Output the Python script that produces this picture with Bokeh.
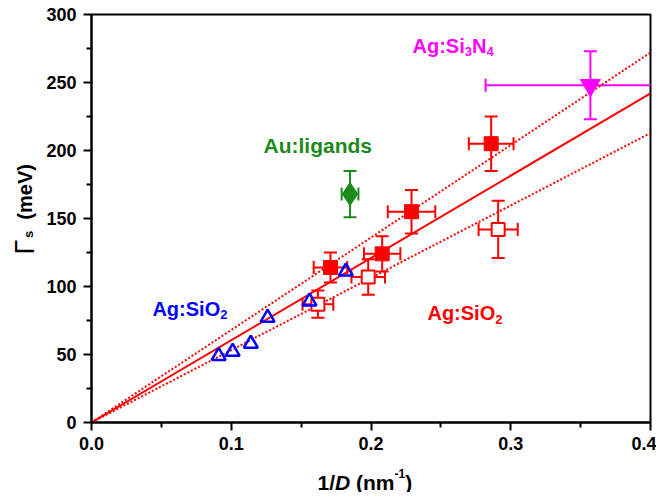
import numpy as np
from bokeh.plotting import figure
from bokeh.layouts import row, column
from bokeh.models import ColumnDataSource, Whisker, TeeHead, Label, FixedTicker, Range1d
from bokeh.embed import file_html
from bokeh.resources import INLINE

# ---- data ----
# Ag:SiO2 (open blue triangles)
tri_x = [0.091, 0.101, 0.114, 0.126, 0.156, 0.182]
tri_y = [49, 52, 58, 77, 89, 111]

# Ag:SiO2 filled red squares
fsq_x = [0.171, 0.208, 0.229, 0.286]
fsq_y = [114, 124, 155, 205]
fsq_xerr = [0.012, 0.013, 0.017, 0.016]
fsq_yerr = [11, 13, 16, 20]

# Ag:SiO2 open red squares
osq_x = [0.162, 0.198, 0.291]
osq_y = [87, 107, 142]
osq_xerr = [0.011, 0.012, 0.014]
osq_yerr = [10, 13, 21]

# Au:ligands green diamond
au_x = [0.185]
au_y = [168]
au_xerr = [0.006]
au_yerr = [17]

# Ag:Si3N4 magenta inverted triangle
sn_x = [0.357]
sn_y = [248]
sn_xerr = [0.075]
sn_yerr = [25]

# linear fits through origin (slope in meV nm)
fit_slope = 605
fit_slope_hi = 680
fit_slope_lo = 532

x_ticks = [0.0, 0.1, 0.2, 0.3, 0.4]
y_ticks = [0, 50, 100, 150, 200, 250, 300]

RED = "#ff0000"
BLUE = "#0000ff"
GREEN = "#1b8a1b"
MAG = "#ff00ff"
FONT = "Liberation Sans"

YT_W = 40            # width of y-title strip
XT_H = 36            # height of x-title strip
ML, MT, FW, FH = 51, 14, 559, 408
W, H = 616, 456
p = figure(width=W, height=H, output_backend="svg", toolbar_location=None,
           x_range=Range1d(0, 0.4), y_range=Range1d(0, 300),
           min_border_left=ML, min_border_right=W - ML - FW, min_border_top=MT,
           min_border_bottom=H - MT - FH)
p.grid.visible = False
p.outline_line_color = "black"
p.outline_line_width = 2
p.background_fill_color = "white"

for ax in (p.xaxis[0], p.yaxis[0]):
    ax.axis_line_width = 2
    ax.major_tick_line_width = 2
    ax.minor_tick_line_width = 2
    ax.major_tick_out = 8
    ax.major_tick_in = 0
    ax.minor_tick_out = 5
    ax.minor_tick_in = 0
    ax.major_label_text_font = FONT
    ax.major_label_text_font_style = "bold"
    ax.major_label_text_font_size = "18px"
    ax.major_label_text_color = "black"

p.xaxis.ticker = FixedTicker(ticks=x_ticks, minor_ticks=[0.05, 0.15, 0.25, 0.35])
p.yaxis.ticker = FixedTicker(ticks=y_ticks, minor_ticks=[25, 75, 125, 175, 225, 275])
p.xaxis.major_label_overrides = {t: f"{t:.1f}" for t in x_ticks}
p.xaxis.major_label_standoff = 6
p.yaxis.major_label_standoff = 7

# fit lines
xl = [0.0, 0.4]
p.line(xl, [fit_slope * v for v in xl], line_color=RED, line_width=2)
p.line(xl, [fit_slope_hi * v for v in xl], line_color=RED, line_width=2, line_dash="2 2")
p.line(xl, [fit_slope_lo * v for v in xl], line_color=RED, line_width=2, line_dash="2 2")


def errbars(x, y, xerr, yerr, color):
    src = ColumnDataSource(dict(
        x=x, y=y,
        xl=[a - b for a, b in zip(x, xerr)], xu=[a + b for a, b in zip(x, xerr)],
        yl=[a - b for a, b in zip(y, yerr)], yu=[a + b for a, b in zip(y, yerr)]))
    for dim, base, lo, up in (("height", "x", "yl", "yu"), ("width", "y", "xl", "xu")):
        w = Whisker(source=src, base=base, lower=lo, upper=up, dimension=dim,
                    line_color=color, line_width=2,
                    upper_head=TeeHead(size=13, line_color=color, line_width=2),
                    lower_head=TeeHead(size=13, line_color=color, line_width=2))
        p.add_layout(w)


errbars(fsq_x, fsq_y, fsq_xerr, fsq_yerr, RED)
errbars(osq_x, osq_y, osq_xerr, osq_yerr, RED)
errbars(au_x, au_y, au_xerr, au_yerr, GREEN)
errbars(sn_x, sn_y, sn_xerr, sn_yerr, MAG)

p.scatter(fsq_x, fsq_y, marker="square", size=14, fill_color=RED, line_color=RED)
p.scatter(osq_x, osq_y, marker="square", size=13, fill_color="white", line_color=RED, line_width=2)
p.scatter(au_x, au_y, marker="diamond", size=23, fill_color=GREEN, line_color=GREEN)
p.scatter(sn_x, sn_y, marker="inverted_triangle", size=20, fill_color=MAG, line_color=MAG)
p.scatter(tri_x, tri_y, marker="triangle", size=14, fill_color=None, line_color=BLUE, line_width=2.5)

# ---- rich text helper (Arial-bold advance widths, em units) ----
CW = {"A": .722, "g": .611, ":": .333, "S": .667, "i": .278, "O": .778, "N": .722,
      "u": .611, "l": .278, "a": .556, "n": .611, "d": .611, "s": .556, "/": .278,
      "D": .722, " ": .278, "(": .333, ")": .333, "m": .889, "e": .556, "V": .667,
      "-": .333, "\u0393": .611}
PX_X = FW / 0.4   # px per data unit (x)
PX_Y = FH / 300   # px per data unit (y)


def width(text, size):
    return sum(CW.get(c, .556) for c in text) * size


def rich(fig, x, y, parts, color, sx=1.0, sy=1.0, vertical=False, units="data"):
    """multi-style label; sx, sy = px per unit"""
    adv = 0.0
    for text, size, style, shift in parts:
        lead = width(text[:len(text) - len(text.lstrip())], size)
        if vertical:
            lx, ly, ang = x + shift / sx, y + (adv + lead) / sy, np.pi / 2
        else:
            lx, ly, ang = x + (adv + lead) / sx, y + shift / sy, 0
        fig.add_layout(Label(x=lx, y=ly, x_units=units, y_units=units, text=text.strip(),
                             text_color=color, text_font=FONT, text_font_size=f"{size}px",
                             text_font_style=style, text_align="left",
                             text_baseline="alphabetic", angle=ang))
        adv += width(text, size)


B = "bold"
rich(p, 0.2297, 277, [("Ag:Si", 20, B, 0), ("3", 13, B, -6), ("N", 20, B, 0), ("4", 13, B, -6)],
     MAG, PX_X, PX_Y)
rich(p, 0.1231, 203.5, [("Au:ligands", 21, B, 0)], GREEN, PX_X, PX_Y)
rich(p, 0.0436, 83.5, [("Ag:SiO", 20, B, 0), ("2", 13, B, -6)], BLUE, PX_X, PX_Y)
rich(p, 0.2404, 80.5, [("Ag:SiO", 20, B, 0), ("2", 13, B, -6)], RED, PX_X, PX_Y)


def strip_fig(w, h):
    f = figure(width=w, height=h, output_backend="svg", toolbar_location=None,
               x_range=Range1d(0, w), y_range=Range1d(0, h),
               x_axis_type=None, y_axis_type=None, min_border=0)
    f.outline_line_color = None
    f.background_fill_color = "white"
    return f


# y-axis title strip (left)
yfig = strip_fig(YT_W, H)
rich(yfig, 24, 168, [("\u0393", 27, "normal", 0), ("s", 13, B, 4), ("  (meV)", 20, B, 0)],
     "black", vertical=True, units="screen")

# x-axis title strip (below)
xfig = strip_fig(YT_W + W, XT_H)
rich(xfig, 317, 10, [("1/", 21, B, 0), ("D", 21, "bold italic", 0), (" (nm", 21, B, 0),
                     ("-1", 12, B, 9), (")", 21, B, 0)], "black", units="screen")

layout = column(row(yfig, p, spacing=0), xfig, spacing=0)
open("out.html", "w").write(file_html(layout, INLINE))
